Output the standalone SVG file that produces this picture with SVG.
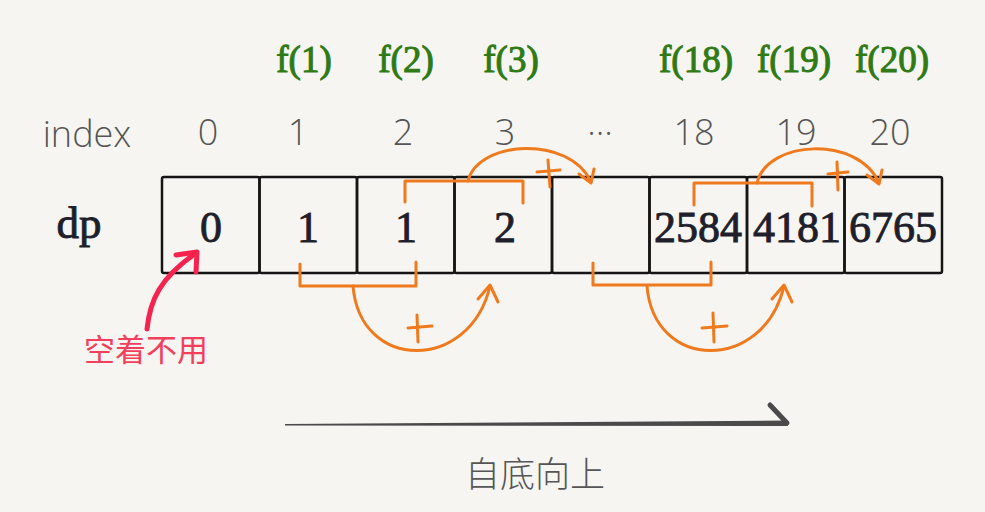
<svg xmlns="http://www.w3.org/2000/svg" width="985" height="512" viewBox="0 0 985 512">
<style>
.f{font-family:"Liberation Serif","DejaVu Serif",serif;font-size:37px;fill:#2f7a14;stroke:#2f7a14;stroke-width:1;text-anchor:middle}
.ix{font-family:"Open Sans","Noto Sans",sans-serif;font-weight:300;font-size:36px;fill:#555;text-anchor:middle}
.cell{fill:none;stroke:#151515;stroke-width:2.5}
.val{font-family:"Liberation Serif","DejaVu Serif",serif;font-size:44px;fill:#1f1f2b;stroke:#1f1f2b;stroke-width:0.9;text-anchor:middle}
.or{fill:none;stroke:#ef7a1e;stroke-width:3;stroke-linecap:round;stroke-linejoin:round}
.red{fill:none;stroke:#f5234d;stroke-width:5;stroke-linecap:round;stroke-linejoin:round}
</style>
<rect width="985" height="512" fill="#f6f5f1"/>
<g id="labels-f">
<text class="f" x="304" y="72">f(1)</text>
<text class="f" x="406" y="72">f(2)</text>
<text class="f" x="511" y="72">f(3)</text>
<text class="f" x="696" y="72">f(18)</text>
<text class="f" x="794" y="72">f(19)</text>
<text class="f" x="892" y="72">f(20)</text>
</g>
<g id="labels-index">
<text class="ix" x="87" y="147">index</text>
<text class="ix" x="208" y="145">0</text>
<text class="ix" x="298" y="145">1</text>
<text class="ix" x="403" y="145">2</text>
<text class="ix" x="505" y="145">3</text>
<text class="ix" x="600" y="145">···</text>
<text class="ix" x="694" y="145">18</text>
<text class="ix" x="796" y="145">19</text>
<text class="ix" x="890" y="145">20</text>
</g>
<g id="dp-label">
<text x="79" y="238" font-family="Liberation Serif, DejaVu Serif, serif" font-size="45" fill="#1f1f2b" stroke="#1f1f2b" stroke-width="0.9" text-anchor="middle">dp</text>
</g>
<g id="cells">
<rect class="cell" x="162" y="177" width="97.5" height="96" rx="2"/>
<rect class="cell" x="259.5" y="177" width="97.5" height="96" rx="2"/>
<rect class="cell" x="357" y="177" width="97.5" height="96" rx="2"/>
<rect class="cell" x="454.5" y="177" width="97.5" height="96" rx="2"/>
<rect class="cell" x="552" y="177" width="97.5" height="96" rx="2"/>
<rect class="cell" x="649.5" y="177" width="97.5" height="96" rx="2"/>
<rect class="cell" x="747" y="177" width="97.5" height="96" rx="2"/>
<rect class="cell" x="844.5" y="177" width="97.5" height="96" rx="2"/>
</g>
<g id="values">
<text class="val" x="211" y="242">0</text>
<text class="val" x="308" y="242">1</text>
<text class="val" x="406" y="242">1</text>
<text class="val" x="505" y="242">2</text>
<text class="val" x="698" y="242">2584</text>
<text class="val" x="797" y="242">4181</text>
<text class="val" x="893" y="242">6765</text>
</g>
<g id="connectors">
<path class="or" d="M405,202 V181 H523 V203"/>
<path class="or" d="M468,181 C478,140 570,135 591,182"/>
<path class="or" d="M579,174 L591,183 L594,169"/>
<path class="or" d="M537,172 L560,170 M548,160 L550,187"/>
<path class="or" d="M300,264 V286 H416 V262"/>
<path class="or" d="M353,286 C360,372 470,372 490,286"/>
<path class="or" d="M478,299 L490,285 L498,302"/>
<path class="or" d="M408,328 L432,326 M417,315 L418,342"/>
<path class="or" d="M694,205 V183 H812 V206"/>
<path class="or" d="M757,183 C767,140 858,135 879,183"/>
<path class="or" d="M867,175 L879,184 L882,170"/>
<path class="or" d="M828,174 L848,172 M837,162 L838,190"/>
<path class="or" d="M593,263 V285 H711 V262"/>
<path class="or" d="M647,286 C654,372 764,372 784,286"/>
<path class="or" d="M772,299 L784,285 L792,302"/>
<path class="or" d="M702,328 L727,326 M713,313 L714,342"/>
<path class="red" d="M147,329 C150,300 160,278 196,253"/>
<path class="red" d="M176,255 L197,252 L196,272"/>
<path d="M285,424 L786,420.5 L788,426 L285,425.5 Z" fill="#4a4a4a"/>
<path d="M770,405 L787,423" fill="none" stroke="#4a4a4a" stroke-width="5" stroke-linecap="round"/>
</g>
<g id="note-unused">
<text x="146" y="361" font-family="Noto Sans CJK SC, sans-serif" font-size="31" fill="#f2405c" text-anchor="middle">空着不用</text>
</g>
<g id="caption">
<text x="535" y="487" font-family="Noto Sans CJK SC, sans-serif" font-weight="300" font-size="35" fill="#555" text-anchor="middle">自底向上</text>
</g>
</svg>
